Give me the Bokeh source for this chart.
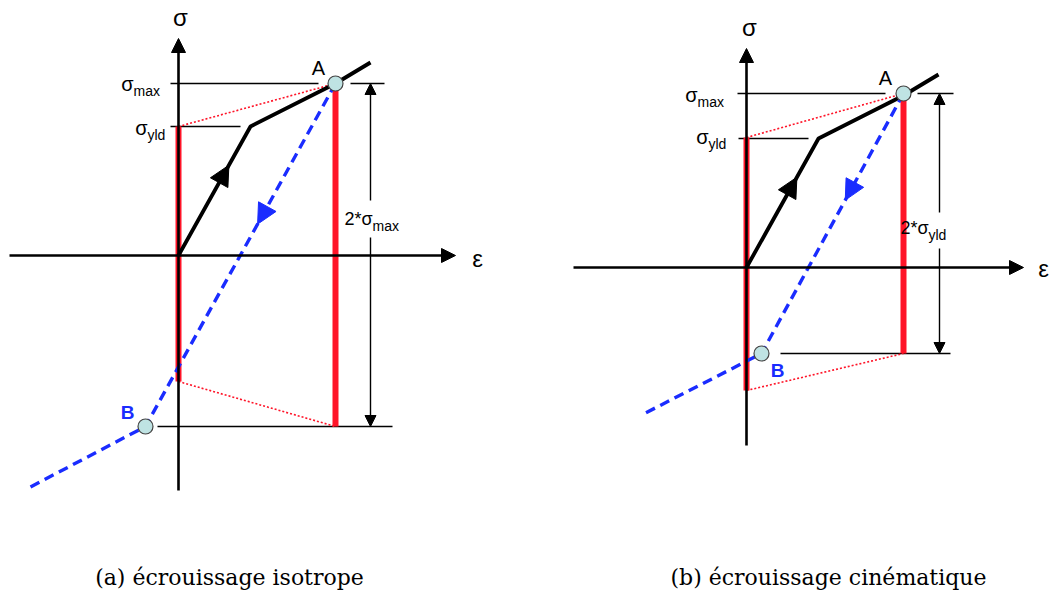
from bokeh.plotting import figure
from bokeh.layouts import row
from bokeh.models import Range1d, Arrow, NormalHead
from bokeh.core.properties import value
from bokeh.embed import file_html
from bokeh.resources import INLINE

# ---------------- data (arbitrary units) -------------
# common loading curve: origin -> yield -> A -> end of hardening branch
load_eps = [0, 72, 157, 192]
load_sig = [0, 129, 172, 193]

# (a) isotropic hardening
iso_A = (157, 172)
iso_B = (-33, -171)
iso_tail = (-151, -233)
iso_left_bar = (129, -126)      # red bar at eps=0
iso_right_bar = (172, -171)     # red bar at eps_A
iso_axes_x = (-169, 277)
iso_axes_y = (-235, 217)
iso_smax_line = [(-8, 140), (172, 206)]
iso_syld_line = (-8, 62)
iso_B_line = (-21, 214)
iso_dim_x = 192
iso_dim_gap = (55, 18)

# (b) kinematic hardening
kin_A = (157, 174)
kin_B = (15, -86)
kin_tail = (-104, -147)
kin_left_bar = (130, -123)
kin_right_bar = (174, -86)
kin_axes_x = (-173, 277)
kin_axes_y = (-178, 219)
kin_smax_line = [(-9, 139), (171, 207)]
kin_syld_line = (-8, 62)
kin_B_line = (34, 204)
kin_dim_x = 193
kin_dim_gap = (55, 19)

captions = ["(a) écrouissage isotrope", "(b) écrouissage cinématique"]

RED = "#ff1428"
BLUE = "#1a2cff"
CIRC = "#bfe3e3"
SANS = value("Liberation Sans")
H = 596


def make_panel(width, x_rng, y_rng, A, B, tail, left_bar, right_bar, axx, axy,
               smax_line, syld_line, B_line, dim_x, dim_gap, sub2, B_lab, A_lab,
               lab_pos, caption, cap_pos):
    p = figure(width=width, height=H, x_range=Range1d(*x_rng), y_range=Range1d(*y_rng),
               output_backend="svg", toolbar_location=None, min_border=0)
    p.axis.visible = False
    p.grid.visible = False
    p.outline_line_color = None
    p.background_fill_color = "white"

    # axes with arrows
    p.add_layout(Arrow(x_start=axx[0], y_start=0, x_end=axx[1], y_end=0, line_width=2.6,
                       end=NormalHead(size=14, fill_color="black", line_color="black")))
    p.add_layout(Arrow(x_start=0, y_start=axy[0], x_end=0, y_end=axy[1], line_width=2.6,
                       end=NormalHead(size=14, fill_color="black", line_color="black")))

    # thin reference lines
    for seg in smax_line:
        p.line(list(seg), [A[1], A[1]], line_color="black", line_width=1.3)
    p.line(list(syld_line), [load_sig[1], load_sig[1]], line_color="black", line_width=1.3)
    p.line(list(B_line), [B[1], B[1]], line_color="black", line_width=1.3)

    # dimension arrow
    p.add_layout(Arrow(x_start=dim_x, y_start=dim_gap[0], x_end=dim_x, y_end=A[1], line_width=1.4,
                       end=NormalHead(size=11, fill_color="black", line_color="black")))
    p.add_layout(Arrow(x_start=dim_x, y_start=dim_gap[1], x_end=dim_x, y_end=B[1], line_width=1.4,
                       end=NormalHead(size=11, fill_color="black", line_color="black")))

    # red bars (yield surfaces)
    p.line([0, 0], list(left_bar), line_color=RED, line_width=6)
    p.line([A[0], A[0]], list(right_bar), line_color=RED, line_width=6)
    # red dotted connectors
    p.line([0, A[0]], [left_bar[0], right_bar[0]], line_color=RED, line_width=1.6, line_dash="2 2")
    p.line([0, A[0]], [left_bar[1], right_bar[1]], line_color=RED, line_width=1.6, line_dash="2 2")

    # loading curve
    p.line(load_eps, load_sig, line_color="black", line_width=3.8)
    t0, t1 = 0.55, 0.70
    p.add_layout(Arrow(x_start=load_eps[1] * t0, y_start=load_sig[1] * t0,
                       x_end=load_eps[1] * t1, y_end=load_sig[1] * t1, line_alpha=0,
                       end=NormalHead(size=20, fill_color="black", line_color="black")))

    # unloading (blue dashed)
    p.line([A[0], B[0], tail[0]], [A[1], B[1], tail[1]], line_color=BLUE, line_width=3.4,
           line_dash="10 6")
    s0, s1 = 0.28, 0.41
    p.add_layout(Arrow(x_start=A[0] + (B[0] - A[0]) * s0, y_start=A[1] + (B[1] - A[1]) * s0,
                       x_end=A[0] + (B[0] - A[0]) * s1, y_end=A[1] + (B[1] - A[1]) * s1,
                       line_alpha=0,
                       end=NormalHead(size=20, fill_color=BLUE, line_color=BLUE)))

    # points A, B
    p.scatter([A[0], B[0]], [A[1], B[1]], size=15, fill_color=CIRC, line_color="#444444",
              line_width=1.2)

    # labels
    L = lab_pos
    p.text([L["sig"][0]], [L["sig"][1]], text=["σ"], text_font=SANS, text_font_size="24px",
           text_align="center", text_baseline="middle")
    p.text([L["eps"][0]], [L["eps"][1]], text=["ε"], text_font=SANS, text_font_size="24px",
           text_align="center", text_baseline="middle")
    p.text([L["smax"][0]], [L["smax"][1]], text=["σ"], text_font=SANS, text_font_size="20px",
           text_align="right", text_baseline="middle")
    p.text([L["smax"][0]], [L["smax"][1] - 7], text=["max"], text_font=SANS,
           text_font_size="14px", text_align="left", text_baseline="middle")
    p.text([L["syld"][0]], [L["syld"][1]], text=["σ"], text_font=SANS, text_font_size="20px",
           text_align="right", text_baseline="middle")
    p.text([L["syld"][0]], [L["syld"][1] - 7], text=["yld"], text_font=SANS,
           text_font_size="14px", text_align="left", text_baseline="middle")
    p.text([L["two"][0]], [L["two"][1]], text=["2*σ"], text_font=SANS, text_font_size="18px",
           text_align="right", text_baseline="middle")
    p.text([L["two"][0]], [L["two"][1] - 7], text=[sub2], text_font=SANS,
           text_font_size="14px", text_align="left", text_baseline="middle")
    p.text([L["A"][0]], [L["A"][1]], text=[A_lab], text_font=SANS, text_font_size="20px",
           text_align="center", text_baseline="middle")
    p.text([L["B"][0]], [L["B"][1]], text=[B_lab], text_font=SANS, text_font_size="19px",
           text_font_style="bold", text_color=BLUE, text_align="center", text_baseline="middle")

    p.text([cap_pos[0]], [cap_pos[1]], text=[caption], text_font=value("DejaVu Serif"),
           text_font_size="22px", text_align="center", text_baseline="middle")
    return p


pa = make_panel(526, (-178, 348), (255 - H, 255), iso_A, iso_B, iso_tail, iso_left_bar,
                iso_right_bar, iso_axes_x, iso_axes_y, iso_smax_line, iso_syld_line,
                iso_B_line, iso_dim_x, iso_dim_gap, "max", "B", "A",
                dict(sig=(2, 238), eps=(299, -3), smax=(-45, 172), syld=(-31, 128),
                     two=(194, 37), A=(140, 188), B=(-51, -157)),
                captions[0], (51, -322))

pb = make_panel(526, (-220, 306), (267 - H, 267), kin_A, kin_B, kin_tail, kin_left_bar,
                kin_right_bar, kin_axes_x, kin_axes_y, kin_smax_line, kin_syld_line,
                kin_B_line, kin_dim_x, kin_dim_gap, "yld", "B", "A",
                dict(sig=(3, 240), eps=(297, -1), smax=(-49, 173), syld=(-38, 131),
                     two=(182, 40), A=(139, 190), B=(31, -103)),
                captions[1], (82, -310))

layout = row(pa, pb, spacing=0)
open("out.html", "w").write(file_html(layout, INLINE))
